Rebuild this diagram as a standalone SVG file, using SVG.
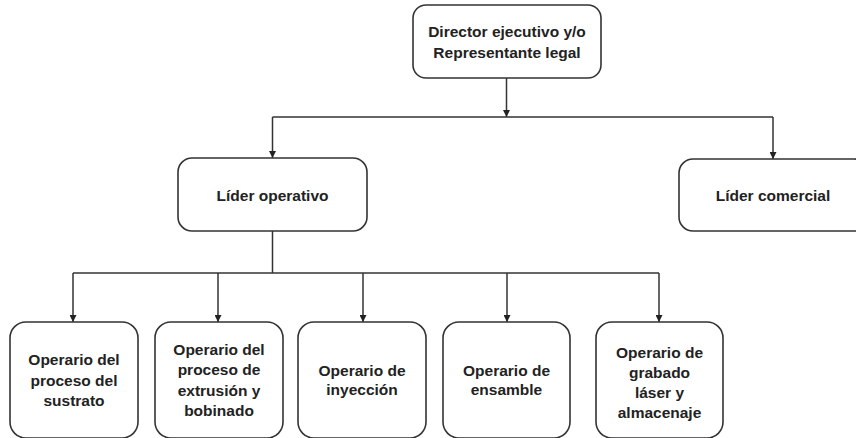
<svg xmlns="http://www.w3.org/2000/svg" width="856" height="438" viewBox="0 0 856 438">
<defs>
<marker id="arr" viewBox="0 0 10 10" refX="10" refY="5" markerWidth="7" markerHeight="7" markerUnits="userSpaceOnUse" orient="auto">
<path d="M0,0 L10,5 L0,10 z" fill="#222"/>
</marker>
<style>
.box{fill:#fff;stroke:#333;stroke-width:1.6}
.t{font-family:"Liberation Sans",Arial,sans-serif;font-weight:bold;font-size:15.5px;fill:#222;text-anchor:middle}
.c{fill:none;stroke:#333;stroke-width:1.5}
.a{fill:none;stroke:#333;stroke-width:1.5;marker-end:url(#arr)}
</style>
</defs>
<rect width="856" height="438" fill="#fff"/>
<g id="connectors">
<path class="a" d="M506.5,78 V117"/>
<path class="c" d="M272.5,117 H773"/>
<path class="a" d="M272.5,117 V158"/>
<path class="a" d="M773,117 V159"/>
<path class="c" d="M272.5,231 V273"/>
<path class="c" d="M73,273 H659"/>
<path class="a" d="M73,273 V322"/>
<path class="a" d="M218,273 V322"/>
<path class="a" d="M363,273 V322"/>
<path class="a" d="M507,273 V322"/>
<path class="a" d="M659,273 V322"/>
</g>
<g id="director">
<rect class="box" x="413" y="5" width="188" height="73" rx="13"/>
<text class="t" x="507" y="37">Director ejecutivo y/o</text>
<text class="t" x="507" y="58">Representante legal</text>
</g>
<g id="lider-operativo">
<rect class="box" x="178" y="158" width="189" height="73" rx="14"/>
<text class="t" x="272.5" y="201">Líder operativo</text>
</g>
<g id="lider-comercial">
<rect class="box" x="679" y="159" width="189" height="72" rx="14"/>
<text class="t" x="773" y="201">Líder comercial</text>
</g>
<g id="op-sustrato">
<rect class="box" x="10" y="322" width="128" height="116" rx="16"/>
<text class="t" x="74" y="365">Operario del</text>
<text class="t" x="74" y="386">proceso del</text>
<text class="t" x="74" y="406">sustrato</text>
</g>
<g id="op-extrusion">
<rect class="box" x="155" y="322" width="128" height="116" rx="16"/>
<text class="t" x="219" y="355">Operario del</text>
<text class="t" x="219" y="375">proceso de</text>
<text class="t" x="219" y="396">extrusión y</text>
<text class="t" x="219" y="416">bobinado</text>
</g>
<g id="op-inyeccion">
<rect class="box" x="298" y="322" width="128" height="116" rx="16"/>
<text class="t" x="362" y="376">Operario de</text>
<text class="t" x="362" y="395">inyección</text>
</g>
<g id="op-ensamble">
<rect class="box" x="443" y="322" width="127" height="116" rx="16"/>
<text class="t" x="506.5" y="376">Operario de</text>
<text class="t" x="506.5" y="395">ensamble</text>
</g>
<g id="op-grabado">
<rect class="box" x="596" y="322" width="127" height="116" rx="16"/>
<text class="t" x="659.5" y="358">Operario de</text>
<text class="t" x="659.5" y="378">grabado</text>
<text class="t" x="659.5" y="398">láser y</text>
<text class="t" x="659.5" y="418">almacenaje</text>
</g>
</svg>
